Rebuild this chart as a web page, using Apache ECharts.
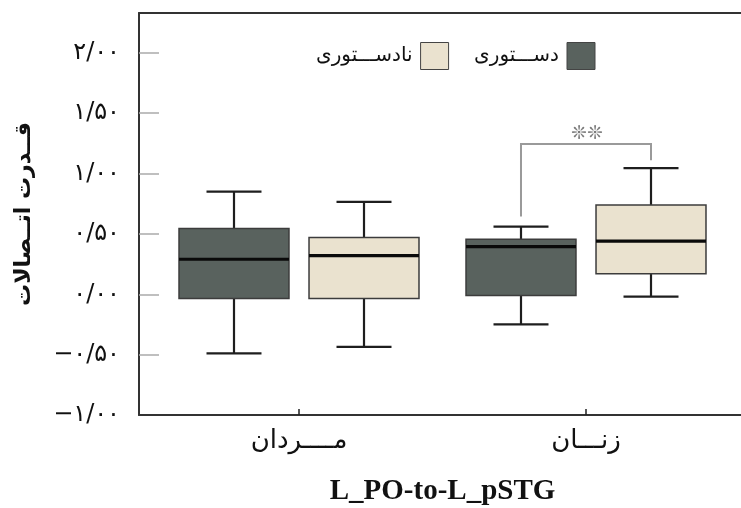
<!DOCTYPE html>
<html>
<head>
<meta charset="utf-8">
<script src="https://cdn.jsdelivr.net/npm/echarts@6/dist/echarts.min.js"></script>
<style>html,body{margin:0;padding:0;background:#fff}#c{width:741px;height:508px}</style>
</head>
<body>
<div id="c"></div>
<script>
// ---- data ----
const categories = ['مــــردان', 'زنـــان'];
const seriesNames = ['دســـتوری', 'نادســـتوری'];
// [min, Q1, median, Q3, max] per category
const dastooriBoxes = [
  [-0.49, -0.035, 0.29, 0.545, 0.85],
  [-0.25, -0.01, 0.395, 0.455, 0.56]
];
const nadastooriBoxes = [
  [-0.435, -0.035, 0.32, 0.47, 0.765],
  [-0.02, 0.17, 0.44, 0.74, 1.045]
];
const yTickValues = [-1, -0.5, 0, 0.5, 1, 1.5, 2];
const yTickLabels = ['−۱/۰۰', '−۰/۵۰', '۰/۰۰', '۰/۵۰', '۱/۰۰', '۱/۵۰', '۲/۰۰'];
const yTickMarks = [-0.5, 0, 0.5, 1, 1.5, 2];
// significance bracket: [categoryIndex, leftEnd, top, rightEnd]
const bracket = [[1, 0.645, 1.245, 1.11]];
const bracketLabel = '❊❊';
const yAxisTitle = 'قــدرت اتــصالات';
const xAxisTitle = 'L_PO-to-L_pSTG';

const COLORS = ['#59625e', '#eae2cf'];
const OFFS = [-0.2265, 0.2265];

function boxRender(offsetFrac, fill) {
  return function (params, api) {
    const c = api.value(0);
    const band = api.size([1, 0])[0];
    const cx = api.coord([c, 0])[0] + offsetFrac * band;
    const y = k => api.coord([c, api.value(k)])[1];
    const yMin = y(1), yQ1 = y(2), yMed = y(3), yQ3 = y(4), yMax = y(5);
    const hw = band * 0.1916, cw = band * 0.0958;
    const ws = { stroke: '#1e1e1e', lineWidth: 2.2 };
    return {
      type: 'group',
      children: [
        { type: 'line', shape: { x1: cx, y1: yMax, x2: cx, y2: yQ3 }, style: ws },
        { type: 'line', shape: { x1: cx, y1: yQ1, x2: cx, y2: yMin }, style: ws },
        { type: 'line', shape: { x1: cx - cw, y1: yMax, x2: cx + cw, y2: yMax }, style: ws },
        { type: 'line', shape: { x1: cx - cw, y1: yMin, x2: cx + cw, y2: yMin }, style: ws },
        { type: 'rect', shape: { x: cx - hw, y: yQ3, width: 2 * hw, height: yQ1 - yQ3 },
          style: { fill: fill, stroke: '#3c3c3c', lineWidth: 1.5 } },
        { type: 'line', shape: { x1: cx - hw, y1: yMed, x2: cx + hw, y2: yMed },
          style: { stroke: '#0a0a0a', lineWidth: 3.2 } }
      ]
    };
  };
}

function bracketRender(params, api) {
  const c = api.value(0);
  const band = api.size([1, 0])[0];
  const base = api.coord([c, 0])[0];
  const xl = base + OFFS[0] * band, xr = base + OFFS[1] * band;
  const yl = api.coord([c, api.value(1)])[1];
  const yt = api.coord([c, api.value(2)])[1];
  const yr = api.coord([c, api.value(3)])[1];
  return {
    type: 'group',
    children: [
      { type: 'polyline', shape: { points: [[xl, yl], [xl, yt], [xr, yt], [xr, yr]] },
        style: { stroke: '#9a9a9a', lineWidth: 2, fill: null } },
      { type: 'text', style: { x: (xl + xr) / 2 + 1, y: yt, text: bracketLabel,
        fill: '#7c7c7c', font: '19px "DejaVu Sans"', align: 'center', verticalAlign: 'bottom' } }
    ]
  };
}

const frameLine = { show: true, onZero: false, lineStyle: { color: '#333', width: 2 } };

const chart = echarts.init(document.getElementById('c'), null, { renderer: 'canvas' });
chart.setOption({
  animation: false,
  backgroundColor: '#fff',
  legend: {
    data: [seriesNames[1], seriesNames[0]],
    left: 311, top: 37,
    align: 'right',
    icon: 'rect',
    itemWidth: 28, itemHeight: 27, itemGap: 25,
    itemStyle: { borderColor: '#444', borderWidth: 1 },
    textStyle: { fontFamily: 'DejaVu Sans', fontSize: 20, color: '#111', padding: [0, 3, 0, 0] }
  },
  grid: [
    { left: 139, top: 13, bottom: 93, width: 760, outerBoundsMode: 'none', containLabel: false },
    { left: 155.5, width: 574, top: 13, bottom: 93, outerBoundsMode: 'none', containLabel: false }
  ],
  xAxis: [
    { gridIndex: 0, type: 'value', min: 0, max: 1, position: 'bottom',
      axisLine: frameLine, axisTick: { show: false }, axisLabel: { show: false }, splitLine: { show: false } },
    { gridIndex: 1, type: 'category', data: categories, position: 'bottom',
      axisLine: { show: false, onZero: false },
      axisTick: { show: true, inside: true, length: 6, alignWithLabel: true, lineStyle: { color: '#222', width: 1.5 } },
      axisLabel: { fontFamily: 'DejaVu Sans', fontSize: 26, color: '#111', margin: 13 },
      name: xAxisTitle, nameLocation: 'middle', nameGap: 62,
      nameTextStyle: { fontFamily: 'Liberation Serif', fontWeight: 'bold', fontSize: 29, color: '#111' } },
    { gridIndex: 0, type: 'value', min: 0, max: 1, position: 'top',
      axisLine: frameLine, axisTick: { show: false }, axisLabel: { show: false }, splitLine: { show: false } }
  ],
  yAxis: [
    { gridIndex: 0, type: 'value', min: -1, max: 2.33, interval: 0.5,
      axisLine: frameLine,
      splitLine: { show: false },
      axisTick: { show: true, inside: true, length: 20, customValues: yTickMarks, lineStyle: { color: '#aaa', width: 1.5 } },
      axisLabel: { customValues: yTickValues, margin: 19, fontFamily: 'DejaVu Sans', fontSize: 24, color: '#111',
        formatter: v => { const i = yTickValues.findIndex(t => Math.abs(t - v) < 1e-6); return i >= 0 ? yTickLabels[i] : ''; } },
      name: yAxisTitle, nameLocation: 'middle', nameGap: 104,
      nameTextStyle: { fontFamily: 'DejaVu Sans', fontWeight: 'bold', fontSize: 22, color: '#111' } },
    { gridIndex: 1, type: 'value', min: -1, max: 2.33, show: false }
  ],
  series: [
    { name: seriesNames[0], type: 'custom', xAxisIndex: 1, yAxisIndex: 1,
      itemStyle: { color: COLORS[0] },
      renderItem: boxRender(OFFS[0], COLORS[0]),
      encode: { x: 0, y: [1, 2, 3, 4, 5] },
      data: dastooriBoxes.map((b, i) => [i].concat(b)) },
    { name: seriesNames[1], type: 'custom', xAxisIndex: 1, yAxisIndex: 1,
      itemStyle: { color: COLORS[1] },
      renderItem: boxRender(OFFS[1], COLORS[1]),
      encode: { x: 0, y: [1, 2, 3, 4, 5] },
      data: nadastooriBoxes.map((b, i) => [i].concat(b)) },
    { name: 'sig', type: 'custom', xAxisIndex: 1, yAxisIndex: 1,
      renderItem: bracketRender, silent: true,
      encode: { x: 0, y: [1, 2, 3] },
      data: bracket }
  ]
});
</script>
</body>
</html>
